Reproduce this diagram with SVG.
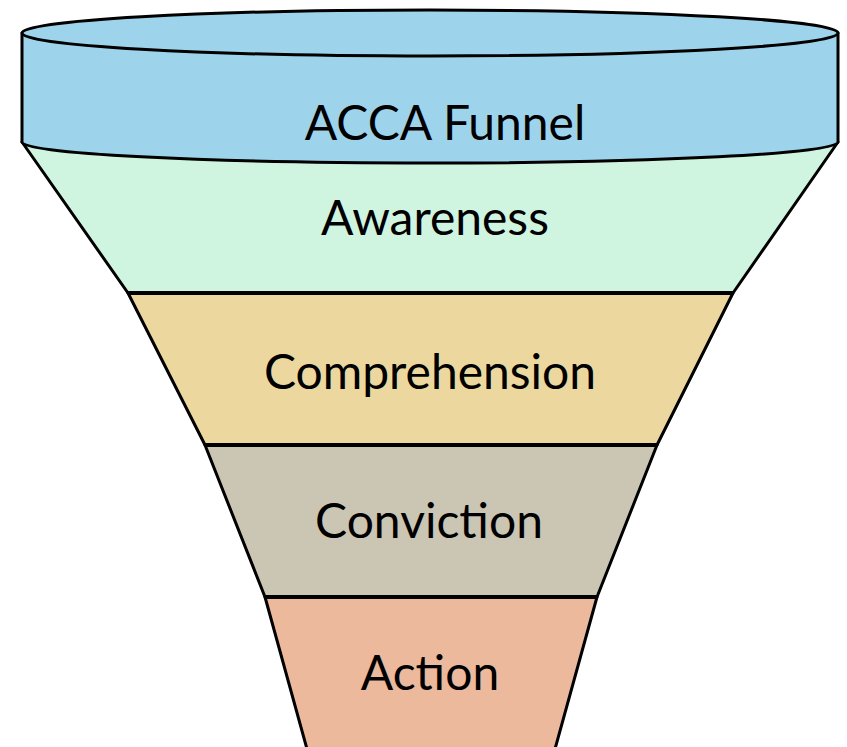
<svg xmlns="http://www.w3.org/2000/svg" width="847" height="747" viewBox="0 0 847 747">
<style>
.layer{stroke:#000;stroke-width:3;stroke-linejoin:round}
.sep{stroke:#000;stroke-width:4;fill:none}
.lbl{font-family:Lato,"Liberation Sans",sans-serif;font-size:48px;fill:#000;text-anchor:middle}
</style>
<rect width="847" height="747" fill="#fff"/>
<g id="action">
<path class="layer" d="M265,597 L597,597 L555,749 L307,749 Z" fill="#ecb99d"/>
<text class="lbl" x="430" y="690">Action</text>
</g>
<g id="conviction">
<path class="layer" d="M205,445 L657,445 L597,597 L265,597 Z" fill="#cbc5b3"/>
<text class="lbl" x="429" y="538">Conviction</text>
</g>
<g id="comprehension">
<path class="layer" d="M128,293 L733,293 L657,445 L205,445 Z" fill="#ecd89e"/>
<text class="lbl" x="430" y="389">Comprehension</text>
</g>
<g id="awareness">
<path class="layer" d="M22,142 L838,142 L733,293 L128,293 Z" fill="#cff5e0"/>
<text class="lbl" x="435" y="235">Awareness</text>
</g>
<g id="acca-funnel">
<path class="layer" d="M22,33 L22,142 A408,21 0 0 0 838,142 L838,33 Z" fill="#9dd4ec"/>
<ellipse class="layer" cx="430" cy="33" rx="408" ry="23" fill="#9dd4ec"/>
<text class="lbl" x="445" y="140">ACCA Funnel</text>
</g>
<g id="connectors">
<line class="sep" x1="128" y1="293" x2="733" y2="293"/>
<line class="sep" x1="205" y1="445" x2="657" y2="445"/>
<line class="sep" x1="265" y1="597" x2="597" y2="597"/>
</g>
</svg>
